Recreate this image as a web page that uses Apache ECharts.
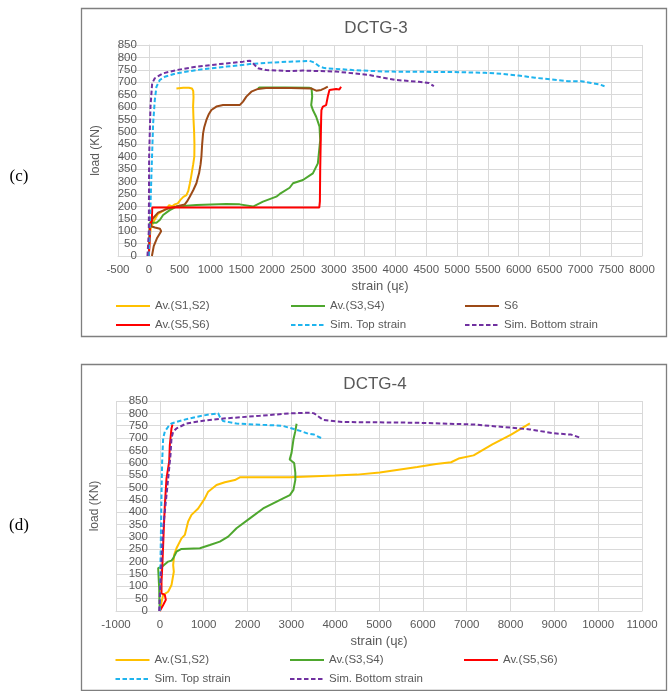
<!DOCTYPE html>
<html>
<head>
<meta charset="utf-8">
<script src="https://cdn.jsdelivr.net/npm/echarts@6/dist/echarts.min.js"></script>
<style>
html,body{margin:0;padding:0;background:#fff;}
#main{width:668px;height:691px;}
</style>
</head>
<body>
<div id="main"></div>
<script>
var titles = ['DCTG-3', 'DCTG-4'];
var panelLabels = ['(c)', '(d)'];
var xAxisTitle = 'strain (ɥε)';
var yAxisTitle = 'load (KN)';
var namesTop = ['Av.(S1,S2)', 'Av.(S3,S4)', 'S6', 'Av.(S5,S6)', 'Sim. Top strain', 'Sim. Bottom strain'];
var namesBottom = ['Av.(S1,S2)', 'Av.(S3,S4)', 'Av.(S5,S6)', 'Sim. Top strain', 'Sim. Bottom strain'];

// ---------- DCTG-3 (top chart): [strain, load] ----------
var c3_S12 = [[0,0],[10,60],[30,110],[80,140],[150,170],[250,185],[300,195],[330,205],[380,200],[421,208],[470,212],[513,226],[560,238],[610,245],[640,262],[664,290],[680,310],[700,340],[720,370],[738,400],[740,450],[735,500],[725,550],[718,602],[725,640],[720,665],[700,675],[650,678],[560,678],[448,675]];
var c3_S34 = [[0,0],[5,60],[10,110],[16,134],[124,134],[178,145],[232,165],[340,185],[448,199],[772,205],[1258,209],[1474,208],[1690,199],[1852,219],[2068,239],[2124,250],[2284,275],[2339,293],[2500,306],[2661,333],[2742,373],[2780,467],[2769,521],[2715,561],[2661,588],[2634,608],[2650,642],[2640,675],[2600,678],[2200,679],[1800,679],[1771,676]];
var c3_S6 = [[50,0],[80,40],[130,70],[200,100],[180,110],[100,115],[30,120],[60,150],[150,175],[300,190],[450,200],[529,205],[583,208],[620,220],[664,239],[720,265],[772,293],[800,320],[815,333],[840,370],[853,400],[865,450],[880,494],[900,520],[934,548],[970,570],[1015,588],[1096,602],[1204,608],[1474,608],[1528,622],[1582,642],[1663,662],[1771,673],[1900,677],[2300,677],[2634,675],[2715,666],[2796,669],[2850,675],[2903,682]];
var c3_S56 = [[0,0],[10,40],[20,100],[15,115],[40,120],[50,150],[55,195],[2765,195],[2775,220],[2780,350],[2790,481],[2796,560],[2800,588],[2823,602],[2876,608],[2903,642],[2930,669],[2957,675],[3038,673],[3091,671],[3118,682]];
var c3_Top = [[0,0],[20,150],[43,333],[70,534],[97,628],[124,682],[178,709],[259,722],[448,736],[772,749],[1258,763],[1636,773],[1963,779],[2285,783],[2608,786],[2688,779],[2769,763],[2850,757],[3306,749],[3844,743],[4382,742],[4919,741],[5457,738],[5726,734],[5995,727],[6263,718],[6532,711],[6801,704],[7016,704],[7177,697],[7312,691],[7392,684]];
var c3_Bot = [[-22,0],[0,100],[5,400],[27,602],[54,696],[97,716],[232,736],[448,749],[772,763],[1150,773],[1528,783],[1636,787],[1690,776],[1771,756],[1906,749],[2284,745],[2500,747],[3038,743],[3575,729],[4005,709],[4382,702],[4543,697],[4624,684]];

// ---------- DCTG-4 (bottom chart): [strain, load] ----------
var c4_S12 = [[0,0],[30,30],[76,65],[190,78],[266,105],[319,159],[304,186],[327,227],[380,254],[494,294],[570,308],[646,362],[722,389],[875,415],[1027,456],[1103,483],[1293,510],[1483,521],[1711,530],[1825,541],[2966,541],[3990,548],[4500,552],[5017,561],[5873,583],[6301,595],[6644,602],[6815,617],[7158,630],[7586,674],[8014,714],[8442,759]];
var c4_S34 = [[0,0],[-10,40],[-15,92],[-38,173],[0,179],[76,183],[190,200],[266,204],[304,213],[380,240],[494,251],[913,254],[1141,267],[1369,281],[1559,301],[1749,335],[2053,375],[2357,415],[2586,436],[2814,456],[2966,469],[3048,490],[3091,531],[3091,559],[3065,599],[2962,613],[3005,640],[3048,694],[3091,728],[3120,758]];
var c4_S56 = [[0,0],[76,24],[137,45],[114,65],[38,71],[38,119],[61,200],[91,335],[114,429],[152,537],[213,604],[228,672],[266,739],[289,755]];
var c4_Top = [[0,0],[15,200],[38,469],[53,604],[76,699],[114,726],[190,746],[266,759],[532,773],[837,786],[1141,796],[1331,800],[1369,786],[1445,769],[1749,759],[2129,755],[2791,750],[3219,728],[3390,717],[3519,714],[3680,700]];
var c4_Bot = [[-15,0],[0,65],[38,200],[76,335],[152,469],[213,577],[243,631],[266,699],[304,726],[380,739],[608,759],[989,770],[1521,780],[2281,790],[2962,800],[3450,803],[3519,800],[3604,789],[3733,773],[4161,765],[5873,762],[7158,755],[8014,742],[8442,735],[8998,719],[9384,714],[9598,701]];

var xRangeTop = [-500, 8000, 500];
var xRangeBottom = [-1000, 11000, 1000];
var yRange = [0, 850, 50];

var colS12 = '#FFC000', colS34 = '#4EA72E', colS6 = '#9C4A17', colS56 = '#FF0000', colTop = '#1FB4EE', colBot = '#7030A0';

var FONT = 'Liberation Sans, Arial, sans-serif';
var TXT = '#595959';
var GRIDC = '#d9d9d9';

var gridTop = { left: 118, top: 45, width: 524, height: 211 };
var gridBottom = { left: 116, top: 401, width: 526, height: 210 };

function lineSeries(name, data, color, dashed, gi) {
  return {
    type: 'line', name: name, data: data,
    xAxisIndex: gi, yAxisIndex: gi,
    showSymbol: false, symbol: 'none', smooth: false,
    lineStyle: { color: color, width: 2, type: dashed ? [4.5, 2.5] : 'solid' },
    itemStyle: { color: color },
    emphasis: { disabled: true }, silent: true, z: 3
  };
}

function xAx(gi, r) {
  return {
    type: 'value', gridIndex: gi, min: r[0], max: r[1], interval: r[2],
    name: xAxisTitle, nameLocation: 'middle', nameGap: 24,
    nameTextStyle: { color: TXT, fontSize: 13, fontFamily: FONT },
    axisLine: { show: true, lineStyle: { color: GRIDC } },
    axisTick: { show: false },
    axisLabel: { color: TXT, fontSize: 11.5, fontFamily: FONT, margin: 8, formatter: function (v) { return String(v); } },
    splitLine: { show: true, lineStyle: { color: GRIDC, width: 1 } }
  };
}
// y axis sits at strain = 0 (like the original), labels next to it
function yAx(gi, grid, xr, gap) {
  var off = -(0 - xr[0]) / (xr[1] - xr[0]) * grid.width;
  return {
    type: 'value', gridIndex: gi, min: yRange[0], max: yRange[1], interval: yRange[2],
    offset: off,
    name: yAxisTitle, nameLocation: 'middle', nameGap: gap, nameRotate: 90,
    nameTextStyle: { color: TXT, fontSize: 12, fontFamily: FONT },
    axisLine: { show: true, onZero: false, lineStyle: { color: GRIDC } },
    axisTick: { show: false },
    axisLabel: { color: TXT, fontSize: 11.5, fontFamily: FONT, margin: 12 },
    splitLine: { show: true, lineStyle: { color: GRIDC, width: 1 } }
  };
}

function leg(name, left, cy) {
  return {
    data: [name], left: left, top: cy - 6, padding: 0,
    itemWidth: 34, itemHeight: 12, selectedMode: false,
    itemStyle: { opacity: 0, borderWidth: 0 },
    lineStyle: { width: 2 },
    textStyle: { color: TXT, fontSize: 11.5, fontFamily: FONT }
  };
}

var cols = [115, 290, 464];
var legends = [
  leg(namesTop[0], cols[0], 306), leg(namesTop[1], cols[1], 306), leg(namesTop[2], cols[2], 306),
  leg(namesTop[3], cols[0], 325), leg(namesTop[4], cols[1], 325), leg(namesTop[5], cols[2], 325),
  leg(namesBottom[0], cols[0] - 0.5, 660), leg(namesBottom[1], cols[1] - 1, 660), leg(namesBottom[2], cols[2] - 1, 660),
  leg(namesBottom[3], cols[0] - 0.5, 679), leg(namesBottom[4], cols[1] - 1, 679)
];

var option = {
  animation: false,
  backgroundColor: '#ffffff',
  grid: [
    Object.assign({ containLabel: false }, gridTop),
    Object.assign({ containLabel: false }, gridBottom)
  ],
  xAxis: [ xAx(0, xRangeTop), xAx(1, xRangeBottom) ],
  yAxis: [ yAx(0, gridTop, xRangeTop, 47), yAx(1, gridBottom, xRangeBottom, 59) ],
  legend: legends,
  series: [
    lineSeries(namesTop[0], c3_S12, colS12, false, 0),
    lineSeries(namesTop[1], c3_S34, colS34, false, 0),
    lineSeries(namesTop[2], c3_S6, colS6, false, 0),
    lineSeries(namesTop[3], c3_S56, colS56, false, 0),
    lineSeries(namesTop[4], c3_Top, colTop, true, 0),
    lineSeries(namesTop[5], c3_Bot, colBot, true, 0),
    lineSeries(namesBottom[0], c4_S12, colS12, false, 1),
    lineSeries(namesBottom[1], c4_S34, colS34, false, 1),
    lineSeries(namesBottom[2], c4_S56, colS56, false, 1),
    lineSeries(namesBottom[3], c4_Top, colTop, true, 1),
    lineSeries(namesBottom[4], c4_Bot, colBot, true, 1)
  ],
  graphic: [
    { type: 'rect', shape: { x: 81.5, y: 8.5, width: 585, height: 328 }, style: { fill: 'none', stroke: '#7f7f7f', lineWidth: 1.3 }, silent: true, z: 0 },
    { type: 'rect', shape: { x: 81.5, y: 364.5, width: 585, height: 326 }, style: { fill: 'none', stroke: '#7f7f7f', lineWidth: 1.3 }, silent: true, z: 0 },
    { type: 'text', x: 376, y: 28, style: { text: titles[0], fill: TXT, font: '17px ' + FONT, textAlign: 'center', textVerticalAlign: 'middle' }, silent: true },
    { type: 'text', x: 375, y: 384, style: { text: titles[1], fill: TXT, font: '17px ' + FONT, textAlign: 'center', textVerticalAlign: 'middle' }, silent: true },
    { type: 'text', x: 19, y: 177, style: { text: panelLabels[0], fill: '#000', font: '17px Liberation Serif, Times New Roman, serif', textAlign: 'center', textVerticalAlign: 'middle' }, silent: true },
    { type: 'text', x: 19, y: 526, style: { text: panelLabels[1], fill: '#000', font: '17px Liberation Serif, Times New Roman, serif', textAlign: 'center', textVerticalAlign: 'middle' }, silent: true }
  ]
};

var chart = echarts.init(document.getElementById('main'), null, { renderer: 'canvas' });
chart.setOption(option);
</script>
</body>
</html>
